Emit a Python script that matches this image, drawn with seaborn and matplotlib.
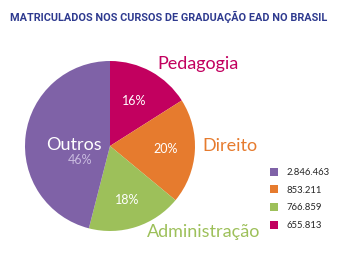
import matplotlib
matplotlib.use("Agg")
import matplotlib.pyplot as plt
import seaborn as sns
import numpy as np

categories = ["Pedagogia", "Direito", "Administração", "Outros"]
percents = [16, 20, 18, 46]
legend_values = ["655.813", "853.211", "766.859", "2.846.463"]
colors = ["#C2005F", "#E67B2E", "#9DC05A", "#7F62A7"]
title = "MATRICULADOS NOS CURSOS DE GRADUAÇÃO EAD NO BRASIL"

sns.set_theme(style="white")
plt.rcParams["font.family"] = ["Lato", "DejaVu Sans"]

W, H = 340, 262
fig = plt.figure(figsize=(W / 100, H / 100), dpi=100)
cx, cy, r = 110, 146, 85
ax = fig.add_axes([(cx - r) / W, (H - cy - r) / H, 2 * r / W, 2 * r / H])

wedges, _ = ax.pie(percents, colors=colors, startangle=90, counterclock=False,
                   wedgeprops=dict(linewidth=0))
ax.set_xlim(-1, 1)
ax.set_ylim(-1, 1)
ax.set_aspect("equal")
ax.axis("off")

# percent labels inside slices
pct_r = [0.6, 0.65, 0.67]
for w, p, rr in zip(wedges[:3], percents[:3], pct_r):
    ang = np.deg2rad((w.theta1 + w.theta2) / 2)
    ax.text(rr * np.cos(ang), rr * np.sin(ang), f"{p}%", color="white",
            ha="center", va="center", fontsize=9, clip_on=False)

# Outros label
ax.text(-0.42, 0.01, categories[3], color="white", ha="center", va="center",
        fontsize=13, clip_on=False)
ax.text(-0.35, -0.17, f"{percents[3]}%", color="#C9BBDF", ha="center",
        va="center", fontsize=9, clip_on=False)

# outside labels
ax.text(0.56, 0.96, categories[0], color=colors[0], ha="left", va="center",
        fontsize=13, clip_on=False)
ax.text(1.09, 0.0, categories[1], color=colors[1], ha="left", va="center",
        fontsize=13, clip_on=False)
ax.text(0.44, -1.01, categories[2], color=colors[2], ha="left", va="center",
        fontsize=13, clip_on=False)

t = fig.text(169 / W, 1 - 17 / H, title, color="#2E3A8F", ha="center", va="center",
             fontsize=10, fontweight="bold", family=["Roboto", "DejaVu Sans"])
fig.canvas.draw()
renderer = fig.canvas.get_renderer()
tw = t.get_window_extent(renderer).width
t.set_fontsize(10 * 316 / tw)

order = [3, 1, 2, 0]
leg = fig.legend([wedges[i] for i in order], [legend_values[i] for i in order],
                 loc="upper left", bbox_to_anchor=(266 / W, 1 - 164 / H),
                 frameon=False, fontsize=6.8, handlelength=0.9, handleheight=0.9,
                 handletextpad=0.9, labelspacing=0.9, borderaxespad=0)

fig.savefig("out.png", dpi=100)
